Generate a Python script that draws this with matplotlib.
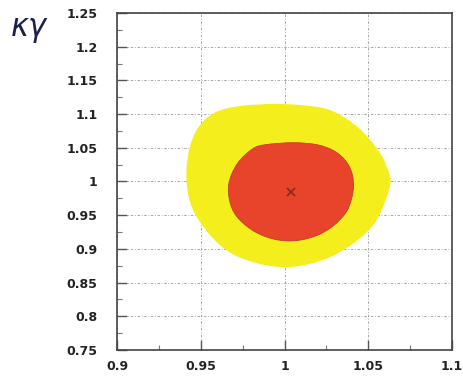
import matplotlib
matplotlib.use('Agg')
import matplotlib.pyplot as plt
from matplotlib.ticker import MultipleLocator
from matplotlib.path import Path
from matplotlib.patches import PathPatch

# 95% contour (yellow)
outer_x = [0.9586, 0.9747, 1.0, 1.0253, 1.0414, 1.0515, 1.0586, 1.0626, 1.0632, 1.0596,
           1.0535, 1.0434, 1.0293, 1.0152, 1.001, 0.9848, 0.9687, 0.9566, 0.9465, 0.9424,
           0.9414, 0.9434, 0.9485]
outer_y = [1.1025, 1.1123, 1.1148, 1.1074, 1.0852, 1.0605, 1.0358, 1.0111, 0.9963, 0.9667,
           0.937, 0.9123, 0.8901, 0.8778, 0.8728, 0.8778, 0.8926, 0.9173, 0.9519, 0.9815,
           1.016, 1.0506, 1.0802]

# 68% contour (red)
inner_x = [1.0051, 1.0192, 1.0293, 1.0364, 1.0404, 1.041, 1.0374, 1.0293, 1.0192, 1.0071,
           0.9949, 0.9828, 0.9727, 0.9677, 0.9667, 0.9717, 0.9808, 0.9889]
inner_y = [1.0575, 1.0546, 1.0457, 1.0309, 1.0111, 0.9864, 0.9568, 0.9346, 0.9198, 0.9123,
           0.9138, 0.9247, 0.9444, 0.9667, 0.9963, 1.0259, 1.0481, 1.0546]

# best fit point
best_x = [1.004]
best_y = [0.984]


def smooth_closed_path(xs, ys):
    # closed Bezier path through the points (Catmull-Rom control points)
    n = len(xs)
    verts = [(xs[0], ys[0])]
    codes = [Path.MOVETO]
    for i in range(n):
        p0 = (xs[i - 1], ys[i - 1])
        p1 = (xs[i], ys[i])
        p2 = (xs[(i + 1) % n], ys[(i + 1) % n])
        p3 = (xs[(i + 2) % n], ys[(i + 2) % n])
        c1 = (p1[0] + (p2[0] - p0[0]) / 6, p1[1] + (p2[1] - p0[1]) / 6)
        c2 = (p2[0] - (p3[0] - p1[0]) / 6, p2[1] - (p3[1] - p1[1]) / 6)
        verts += [c1, c2, p2]
        codes += [Path.CURVE4] * 3
    return Path(verts, codes)


fig = plt.figure(figsize=(4.63, 3.82), dpi=100)
ax = fig.add_axes([0.253, 0.084, 0.723, 0.882])

ax.add_patch(PathPatch(smooth_closed_path(outer_x, outer_y), facecolor='#f4ef1c', lw=0, zorder=2))
ax.add_patch(PathPatch(smooth_closed_path(inner_x, inner_y), facecolor='#e8442c',
                       edgecolor='#c83a26', lw=0.6, zorder=3))
ax.plot(best_x, best_y, marker='x', color='#8a2a1c', ms=6, mew=1.2, ls='none', zorder=4)

ax.set_xlim(0.9, 1.1)
ax.set_ylim(0.75, 1.25)
ax.xaxis.set_minor_locator(MultipleLocator(0.025))
ax.yaxis.set_minor_locator(MultipleLocator(0.025))
xt = [0.9, 0.95, 1.0, 1.05, 1.1]
xl = ['0.9', '0.95', '1', '1.05', '1.1']
yt = [0.75, 0.8, 0.85, 0.9, 0.95, 1.0, 1.05, 1.1, 1.15, 1.2, 1.25]
yl = ['0.75', '0.8', '0.85', '0.9', '0.95', '1', '1.05', '1.1', '1.15', '1.2', '1.25']
ax.set_xticks(xt)
ax.set_xticklabels(xl, fontsize=9, fontweight='bold', color='#222222')
ax.set_yticks(yt)
ax.set_yticklabels(yl, fontsize=9, fontweight='bold', color='#222222')

ax.tick_params(which='major', direction='in', length=7, width=1.0, color='#555555')
ax.tick_params(axis='x', which='major', pad=7)
ax.tick_params(axis='y', which='major', pad=14)
ax.tick_params(which='minor', direction='in', length=3.5, width=0.8, color='#777777')
ax.tick_params(top=False, right=False, which='both')

ax.grid(True, which='major', color='#999999', lw=0.6, ls=(0, (3, 2, 1, 2)), zorder=1)
ax.set_axisbelow(True)
for s in ax.spines.values():
    s.set_color('#444444')
    s.set_linewidth(1.2)

fig.text(0.022, 0.905, r'$\kappa\gamma$', fontsize=22, color='#1a2050')

fig.savefig('out.png', dpi=100)
